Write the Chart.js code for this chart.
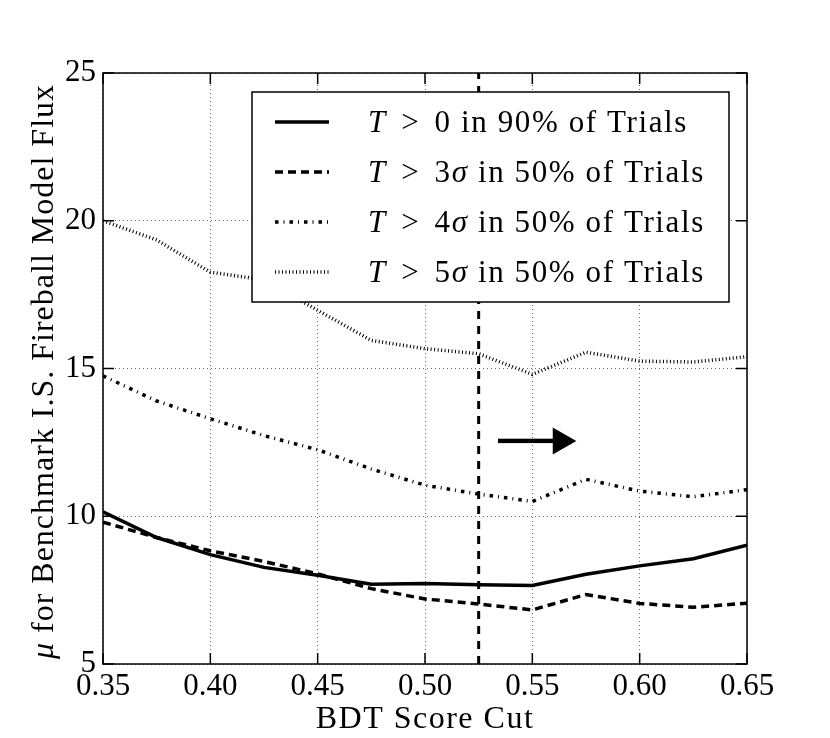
<!DOCTYPE html>
<html>
<head>
<meta charset="utf-8">
<script src="https://cdn.jsdelivr.net/npm/chart.js@4.4.1/dist/chart.umd.min.js"></script>
<style>
  html, body { margin: 0; padding: 0; background: #fff; }
  canvas { display: block; }
</style>
</head>
<body>
<canvas id="cutChart" width="830" height="738"></canvas>
<script>
// BDT score cut values (x axis)
const bdtCuts = [0.35, 0.375, 0.40, 0.425, 0.45, 0.475, 0.50, 0.525, 0.55, 0.575, 0.60, 0.625, 0.65];

// mu for benchmark flux, one array per criterion
const muT0in90 = [10.15, 9.28, 8.7, 8.27, 8.0, 7.7, 7.72, 7.68, 7.66, 8.04, 8.32, 8.56, 9.02];
const muT3in50 = [9.8, 9.28, 8.83, 8.47, 8.05, 7.55, 7.2, 7.03, 6.83, 7.35, 7.05, 6.92, 7.06];
const muT4in50 = [14.75, 13.9, 13.3, 12.73, 12.25, 11.6, 11.05, 10.75, 10.5, 11.25, 10.85, 10.66, 10.9];
const muT5in50 = [20.0, 19.35, 18.26, 18.0, 16.97, 15.95, 15.67, 15.5, 14.8, 15.55, 15.25, 15.22, 15.4];

const legendLabels = [
    'T > 0 in 90% of Trials',
    'T > 3σ in 50% of Trials',
    'T > 4σ in 50% of Trials',
    'T > 5σ in 50% of Trials'
];

const xTitle = 'BDT Score Cut';
const yTitle = 'μ for Benchmark I.S. Fireball Model Flux';

// chosen cut and the arrow pointing to the kept side
const chosenCut = 0.525;
const arrowFrom = 0.534;
const arrowHead = 0.5595;
const arrowTo = 0.5705;
const arrowAt = 12.55;

const xTicks = [0.35, 0.40, 0.45, 0.50, 0.55, 0.60, 0.65];
const yTicks = [5, 10, 15, 20, 25];

const serif = "'Liberation Serif', 'DejaVu Serif', serif";

function toPoints(ys) {
    return bdtCuts.map((x, i) => ({ x: x, y: ys[i] }));
}

function series(label, ys, dash, width) {
    return {
        label: label,
        data: toPoints(ys),
        borderColor: '#000',
        borderWidth: width,
        borderDash: dash,
        borderCapStyle: 'butt',
        pointRadius: 0,
        tension: 0,
        fill: false
    };
}

const datasets = [
    series(legendLabels[0], muT0in90, [], 3.5),
    series(legendLabels[1], muT3in50, [8, 5], 3.5),
    series(legendLabels[2], muT4in50, [3.5, 5, 1, 5], 3.5),
    series(legendLabels[3], muT5in50, [1, 2.5], 3.5),
    {
        label: '',
        data: [{ x: chosenCut, y: 5 }, { x: chosenCut, y: 25 }],
        borderColor: '#000',
        borderWidth: 3,
        borderDash: [8, 7],
        borderCapStyle: 'butt',
        pointRadius: 0,
        fill: false
    }
];

// draws text with italic T / sigma pieces, returns end x
function mathText(ctx, txt, x, y, size) {
    const parts = txt.replace(/^T/, '\u0001T\u0001').split(/(\u0001T\u0001|σ| > )/).filter(p => p.length);
    parts.forEach(p => {
        let s = p, italic = false, extra = 0;
        if (p === '\u0001T\u0001') { s = 'T'; italic = true; }
        if (p === 'σ') italic = true;
        if (p === ' > ') extra = 5;
        ctx.font = (italic ? 'italic ' : '') + size + 'px ' + serif;
        if (extra) {
            const w = ctx.measureText(s).width;
            ctx.fillText(s, x + extra, y);
            x += w + extra * 2;
        } else {
            ctx.fillText(s, x, y);
            x += ctx.measureText(s).width;
        }
    });
    return x;
}

// frame, inner ticks, arrow, titles and the legend box
const decorations = {
    id: 'decorations',
    afterDatasetsDraw(chart) {
        const ctx = chart.ctx;
        const a = chart.chartArea;
        const xs = chart.scales.x;
        const ys = chart.scales.y;

        // arrow
        const y0 = ys.getPixelForValue(arrowAt);
        const xa = xs.getPixelForValue(arrowFrom);
        const xh = xs.getPixelForValue(arrowHead);
        const xt = xs.getPixelForValue(arrowTo);
        ctx.save();
        ctx.fillStyle = '#000';
        ctx.fillRect(xa, y0 - 2.2, xh - xa + 1, 4.4);
        ctx.beginPath();
        ctx.moveTo(xh, y0 - 13.5);
        ctx.lineTo(xt, y0);
        ctx.lineTo(xh, y0 + 13.5);
        ctx.closePath();
        ctx.fill();
        ctx.restore();

        // frame
        ctx.save();
        ctx.strokeStyle = '#000';
        ctx.lineWidth = 1.5;
        ctx.strokeRect(a.left, a.top, a.right - a.left, a.bottom - a.top);
        // inner ticks on all sides
        ctx.beginPath();
        xTicks.forEach(v => {
            const px = xs.getPixelForValue(v);
            ctx.moveTo(px, a.bottom); ctx.lineTo(px, a.bottom - 11);
            ctx.moveTo(px, a.top); ctx.lineTo(px, a.top + 11);
        });
        yTicks.forEach(v => {
            const py = ys.getPixelForValue(v);
            ctx.moveTo(a.left, py); ctx.lineTo(a.left + 11, py);
            ctx.moveTo(a.right, py); ctx.lineTo(a.right - 11, py);
        });
        ctx.stroke();
        ctx.restore();

        // axis titles
        ctx.save();
        ctx.fillStyle = '#000';
        ctx.letterSpacing = '1.5px';
        ctx.font = '32px ' + serif;
        ctx.textAlign = 'center';
        ctx.textBaseline = 'alphabetic';
        ctx.fillText(xTitle, (a.left + a.right) / 2, 728);
        ctx.translate(53, (a.top + a.bottom) / 2 + 3);
        ctx.rotate(-Math.PI / 2);
        ctx.letterSpacing = '1px';
        const mu = yTitle.slice(0, 1), rest = yTitle.slice(1);
        ctx.font = 'italic 32px ' + serif;
        const wMu = ctx.measureText(mu).width;
        ctx.font = '32px ' + serif;
        const wRest = ctx.measureText(rest).width;
        ctx.textAlign = 'left';
        let sx = -(wMu + wRest) / 2;
        ctx.font = 'italic 32px ' + serif;
        ctx.fillText(mu, sx, 0);
        ctx.font = '32px ' + serif;
        ctx.fillText(rest, sx + wMu, 0);
        ctx.restore();

        // legend
        const bx = 252, by = 92, bw = 477, bh = 210;
        ctx.save();
        ctx.fillStyle = '#fff';
        ctx.fillRect(bx, by, bw, bh);
        ctx.strokeStyle = '#000';
        ctx.lineWidth = 1.5;
        ctx.strokeRect(bx, by, bw, bh);
        legendLabels.forEach((txt, i) => {
            const ds = chart.data.datasets[i];
            const ly = by + 30 + i * 50;
            ctx.strokeStyle = '#000';
            ctx.lineWidth = ds.borderWidth;
            ctx.setLineDash(ds.borderDash);
            ctx.lineCap = 'butt';
            ctx.beginPath();
            ctx.moveTo(bx + 23, ly);
            ctx.lineTo(bx + 77, ly);
            ctx.stroke();
            ctx.setLineDash([]);

            ctx.fillStyle = '#000';
            ctx.textBaseline = 'alphabetic';
            ctx.letterSpacing = '1.6px';
            mathText(ctx, txt, bx + 116, ly + 10, 31);
        });
        ctx.restore();
    }
};

const ctx = document.getElementById('cutChart').getContext('2d');
new Chart(ctx, {
    type: 'line',
    data: { datasets: datasets },
    plugins: [decorations],
    options: {
        responsive: false,
        animation: false,
        devicePixelRatio: 1,
        layout: { padding: { top: 73, right: 83, left: 0, bottom: 0 } },
        plugins: {
            legend: { display: false },
            tooltip: { enabled: false }
        },
        scales: {
            x: {
                type: 'linear',
                min: 0.35,
                max: 0.65,
                afterBuildTicks: s => { s.ticks = xTicks.map(v => ({ value: v })); },
                afterFit: s => { s.height = 74; },
                ticks: {
                    padding: 4,
                    color: '#000',
                    font: { family: serif, size: 31 },
                    callback: v => v.toFixed(2),
                    maxRotation: 0
                },
                grid: {
                    color: 'rgba(0,0,0,0.6)',
                    lineWidth: 1,
                    drawTicks: false
                },
                border: { display: false, dash: [1, 3] },
                title: { display: false }
            },
            y: {
                type: 'linear',
                min: 5,
                max: 25,
                afterBuildTicks: s => { s.ticks = yTicks.map(v => ({ value: v })); },
                afterFit: s => { s.width = 103; },
                ticks: {
                    padding: 7,
                    color: '#000',
                    font: { family: serif, size: 31 },
                    callback: v => String(v)
                },
                grid: {
                    color: 'rgba(0,0,0,0.6)',
                    lineWidth: 1,
                    drawTicks: false
                },
                border: { display: false, dash: [1, 3] },
                title: { display: false }
            }
        }
    }
});
</script>
</body>
</html>
